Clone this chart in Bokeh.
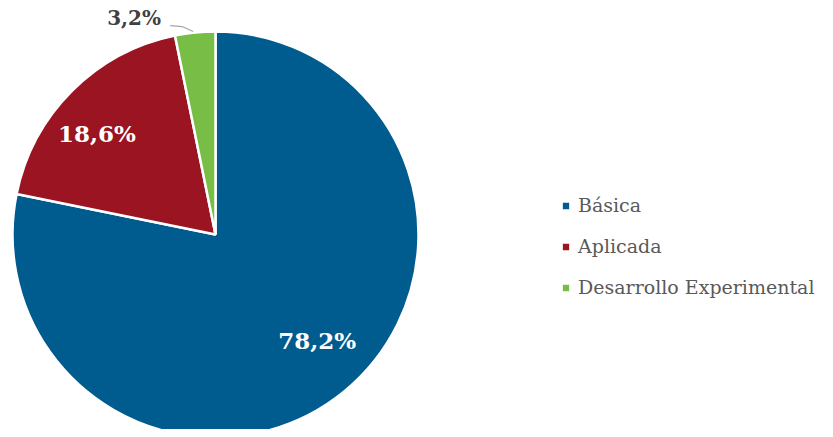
import math
from bokeh.plotting import figure
from bokeh.models import Range1d, ColumnDataSource, Legend, LegendItem
from bokeh.core.properties import value
from bokeh.embed import file_html
from bokeh.resources import INLINE

categories = ["Básica", "Aplicada", "Desarrollo Experimental"]
shares = [78.2, 18.6, 3.2]
labels = ["78,2%", "18,6%", "3,2%"]
colors = ["#005b8f", "#9a1422", "#78be46"]

W, H = 825, 429
p = figure(width=W, height=H, output_backend="svg", toolbar_location=None,
           x_range=Range1d(0, W), y_range=Range1d(0, H), min_border=0)
p.axis.visible = False
p.grid.visible = False
p.outline_line_color = None
p.background_fill_color = "white"

cx, cy, R = 215, 195, 203
total = sum(shares)
starts, ends, mids = [], [], []
a = math.pi / 2
for s in shares:
    b = a - s / total * 2 * math.pi
    starts.append(a); ends.append(b); mids.append((a + b) / 2)
    a = b

src = ColumnDataSource(dict(start=starts, end=ends, color=colors, cat=categories))
r = p.wedge(x=cx, y=cy, radius=R, start_angle="start", end_angle="end", direction="clock",
            fill_color="color", line_color="white", line_width=2.5, source=src)

font = value("DejaVu Serif")
# inside labels
lr = [147, 156]
shift = math.radians(4.5)
lx = [cx + lr[i] * math.cos(mids[i] + shift) for i in range(2)]
ly = [cy + lr[i] * math.sin(mids[i] + shift) for i in range(2)]
p.text(x=lx, y=ly, text=labels[:2], text_color="white", text_font=font,
       text_font_size="23px", text_font_style="bold", text_align="center", text_baseline="middle")

# outside label for small slice with leader line
m = mids[2]
ex, ey = cx + R * math.cos(m), cy + R * math.sin(m)
p.line(x=[ex - 2, ex - 13, ex - 25], y=[ey + 1, ey + 6, ey + 7], line_color="#a6a6a6", line_width=1.3)
p.text(x=[ex - 88], y=[ey + 15], text=[labels[2]], text_color="#404040", text_font=font,
       text_font_size="20px", text_font_style="bold", text_align="left", text_baseline="middle")

items = [LegendItem(label=categories[i], renderers=[r], index=i) for i in range(3)]
legend = Legend(items=items, location=(560, 130), orientation="vertical",
                glyph_width=11, glyph_height=11, label_standoff=7, spacing=17,
                label_height=24, padding=0, margin=0, border_line_color=None,
                background_fill_alpha=0, label_text_font="DejaVu Serif", label_text_font_size="19px",
                label_text_color="#595959")
p.add_layout(legend)

open("out.html", "w").write(file_html(p, INLINE))
